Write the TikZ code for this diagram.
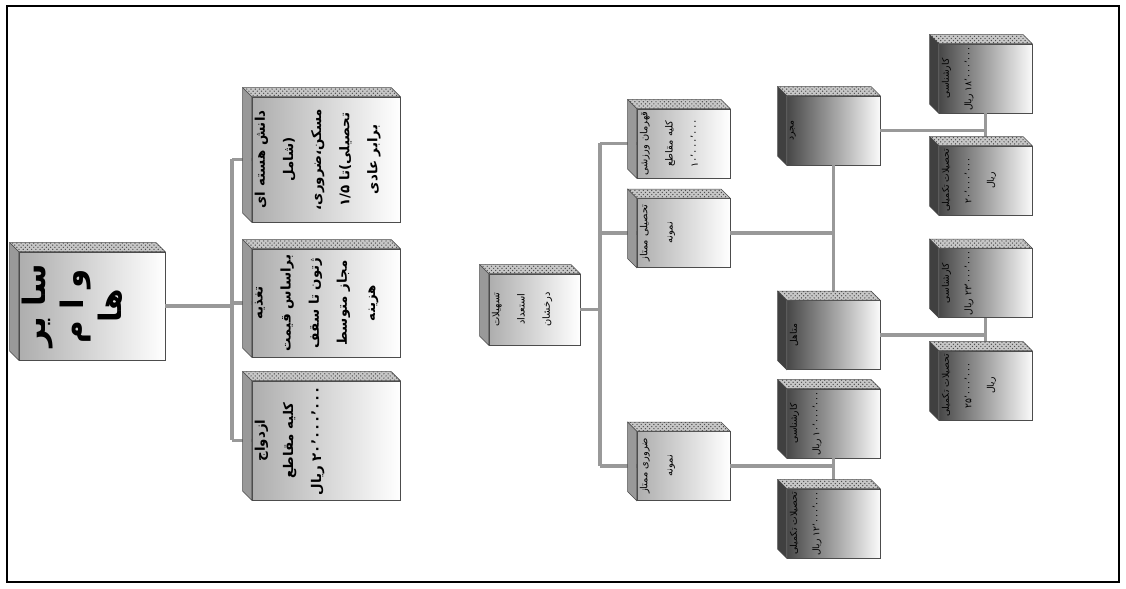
\documentclass[tikz,border=0pt]{standalone}
\usepackage{fontspec}
\usepackage{graphicx}
\newfontfamily\arabicfont[Script=Arabic]{DejaVu Sans}
\TeXXeTstate=1
\usetikzlibrary{patterns}

\newcommand{\fa}[1]{\mbox{\beginR #1\endR}}
\newcommand{\adad}[1]{\beginL #1\endL{}}
\newcommand{\bigfa}{\bfseries\fontsize{22}{27}\selectfont}
\newcommand{\midfa}{\bfseries\fontsize{9.5}{20}\selectfont}
\newcommand{\smallfa}{\fontsize{7}{18}\selectfont}
\newcommand{\tinyfa}{\fontsize{6.5}{16}\selectfont}
% #1 length of the lines, #2 room across them, #3 size, #4 lines
\newcommand{\boxlines}[4]{\rotatebox{90}{\begin{minipage}[c][#2][t]{#1}\centering\arabicfont#3\vspace*{2pt}#4\end{minipage}}}

\begin{document}
\begin{tikzpicture}[x=0.025cm, y=-0.025cm,
    lightbox/.style={inner sep=0pt, draw=black!70, line width=0.4pt, left color=black!32, right color=white},
    darkbox/.style={inner sep=0pt, draw=black!70, line width=0.4pt, left color=black!72, right color=black!2},
    link/.style={draw=black!40, line width=2.5pt},
    topface/.style={fill=black!22, draw=black!70, line width=0.4pt, postaction={pattern=crosshatch dots, pattern color=black!70}},
    lightside/.style={fill=black!40, draw=black!70, line width=0.4pt},
    darkside/.style={fill=black!75, draw=black!70, line width=0.4pt}]
        \useasboundingbox (0,0) rectangle (1126,589);
        \draw[line width=1.2pt] (7,6) rectangle (1119,582);

        % left tree
        \node[lightbox] (sayer) at (92,306) {\boxlines{2.7cm}{3.65cm}{\bigfa}{\fa{سا یر}\\ \fa{و ا م}\\ \fa{ها}}};
        \node[lightbox] (hasteh) at (326,159.5) {\boxlines{3.125cm}{3.7cm}{\midfa}{\fa{دانش هسته ای}\\ \fa{(شامل}\\ \fa{مسکن،ضروری،}\\ \fa{تحصیلی)تا \adad{۱/۵}}\\ \fa{برابر عادی}}};
        \node[lightbox] (taghzieh) at (326,303) {\boxlines{2.7cm}{3.7cm}{\midfa}{\fa{تغذیه}\\ \fa{براساس قیمت}\\ \fa{ژتون تا سقف}\\ \fa{مجاز متوسط}\\ \fa{هزینه}}};
        \node[lightbox] (ezdevaj) at (326,440.5) {\boxlines{2.975cm}{3.7cm}{\midfa}{\fa{ازدواج}\\ \fa{کلیه مقاطع}\\ \fa{\adad{۲۰٬۰۰۰٬۰۰۰} ریال}}};

        % right tree
        \node[lightbox] (estedad) at (534.5,309.5) {\boxlines{1.775cm}{2.275cm}{\smallfa}{\fa{تسهیلات}\\ \fa{استعداد}\\ \fa{درخشان}}};
        \node[lightbox] (ghahreman) at (683.5,143.5) {\boxlines{1.725cm}{2.325cm}{\smallfa}{\fa{قهرمان ورزشی}\\ \fa{کلیه مقاطع}\\ \fa{\adad{۱۰٬۰۰۰٬۰۰۰}}}};
        \node[lightbox] (tahsili) at (683.5,233) {\boxlines{1.725cm}{2.325cm}{\smallfa}{\fa{تحصیلی ممتاز}\\ \fa{نمونه}}};
        \node[lightbox] (zarouri) at (683.5,466) {\boxlines{1.725cm}{2.325cm}{\smallfa}{\fa{ضروری ممتاز}\\ \fa{نمونه}}};

        \node[darkbox] (mojarrad) at (833.5,130.5) {\boxlines{1.725cm}{2.325cm}{\tinyfa}{\fa{مجرد}}};
        \node[darkbox] (motahel) at (833.5,335) {\boxlines{1.725cm}{2.325cm}{\tinyfa}{\fa{متاهل}}};
        \node[darkbox] (karZ) at (833.5,423.5) {\boxlines{1.725cm}{2.325cm}{\tinyfa}{\fa{کارشناسی}\\ \fa{\adad{۱۰٬۰۰۰٬۰۰۰} ریال}}};
        \node[darkbox] (takZ) at (833.5,523.5) {\boxlines{1.725cm}{2.325cm}{\tinyfa}{\fa{تحصیلات تکمیلی}\\ \fa{\adad{۱۲٬۰۰۰٬۰۰۰} ریال}}};
        \node[darkbox] (karM) at (985.5,78.5) {\boxlines{1.725cm}{2.325cm}{\tinyfa}{\fa{کارشناسی}\\ \fa{\adad{۱۸٬۰۰۰٬۰۰۰} ریال}}};
        \node[darkbox] (takM) at (985.5,180.5) {\boxlines{1.725cm}{2.325cm}{\tinyfa}{\fa{تحصیلات تکمیلی}\\ \fa{\adad{۲۰٬۰۰۰٬۰۰۰}}\\ \fa{ریال}}};
        \node[darkbox] (karT) at (985.5,283) {\boxlines{1.725cm}{2.325cm}{\tinyfa}{\fa{کارشناسی}\\ \fa{\adad{۲۳٬۰۰۰٬۰۰۰} ریال}}};
        \node[darkbox] (takT) at (985.5,385.5) {\boxlines{1.725cm}{2.325cm}{\tinyfa}{\fa{تحصیلات تکمیلی}\\ \fa{\adad{۲۵٬۰۰۰٬۰۰۰}}\\ \fa{ریال}}};

        % connectors
        \coordinate (busL) at (232,0);
        \coordinate (busR) at (600,0);
        \draw[link] (sayer.east) -- (sayer.east -| busL);
        \draw[link] (busL |- hasteh.west) -- (busL |- ezdevaj.west);
        \foreach \n in {hasteh,taghzieh,ezdevaj}
            \draw[link] (busL |- \n.west) -- (\n.west);
        \draw[link] (estedad.east) -- (estedad.east -| busR);
        \draw[link] (busR |- ghahreman.west) -- (busR |- zarouri.west);
        \foreach \n in {ghahreman,tahsili,zarouri}
            \draw[link] (busR |- \n.west) -- (\n.west);
        \draw[link] (tahsili.east) -- (tahsili.east -| mojarrad.south);
        \draw[link] (mojarrad.south) -- (motahel.north);
        \draw[link] (zarouri.east) -- (zarouri.east -| karZ.south);
        \draw[link] (karZ.south) -- (takZ.north);
        \draw[link] (mojarrad.east) -- (mojarrad.east -| karM.south);
        \draw[link] (karM.south) -- (takM.north);
        \draw[link] (motahel.east) -- (motahel.east -| karT.south);
        \draw[link] (karT.south) -- (takT.north);

        % depth of the boxes
        \foreach \n in {sayer,hasteh,taghzieh,ezdevaj,estedad,ghahreman,tahsili,zarouri}{
            \filldraw[topface] (\n.north west) -- (\n.north east) -- ++(-9,-9) -- ([shift={(-9,-9)}]\n.north west) -- cycle;
            \filldraw[lightside] (\n.north west) -- ++(-9,-9) -- ([shift={(-9,-9)}]\n.south west) -- (\n.south west) -- cycle;
        }
        \foreach \n in {mojarrad,motahel,karZ,takZ,karM,takM,karT,takT}{
            \filldraw[topface] (\n.north west) -- (\n.north east) -- ++(-9,-9) -- ([shift={(-9,-9)}]\n.north west) -- cycle;
            \filldraw[darkside] (\n.north west) -- ++(-9,-9) -- ([shift={(-9,-9)}]\n.south west) -- (\n.south west) -- cycle;
        }
    \end{tikzpicture}
\end{document}
